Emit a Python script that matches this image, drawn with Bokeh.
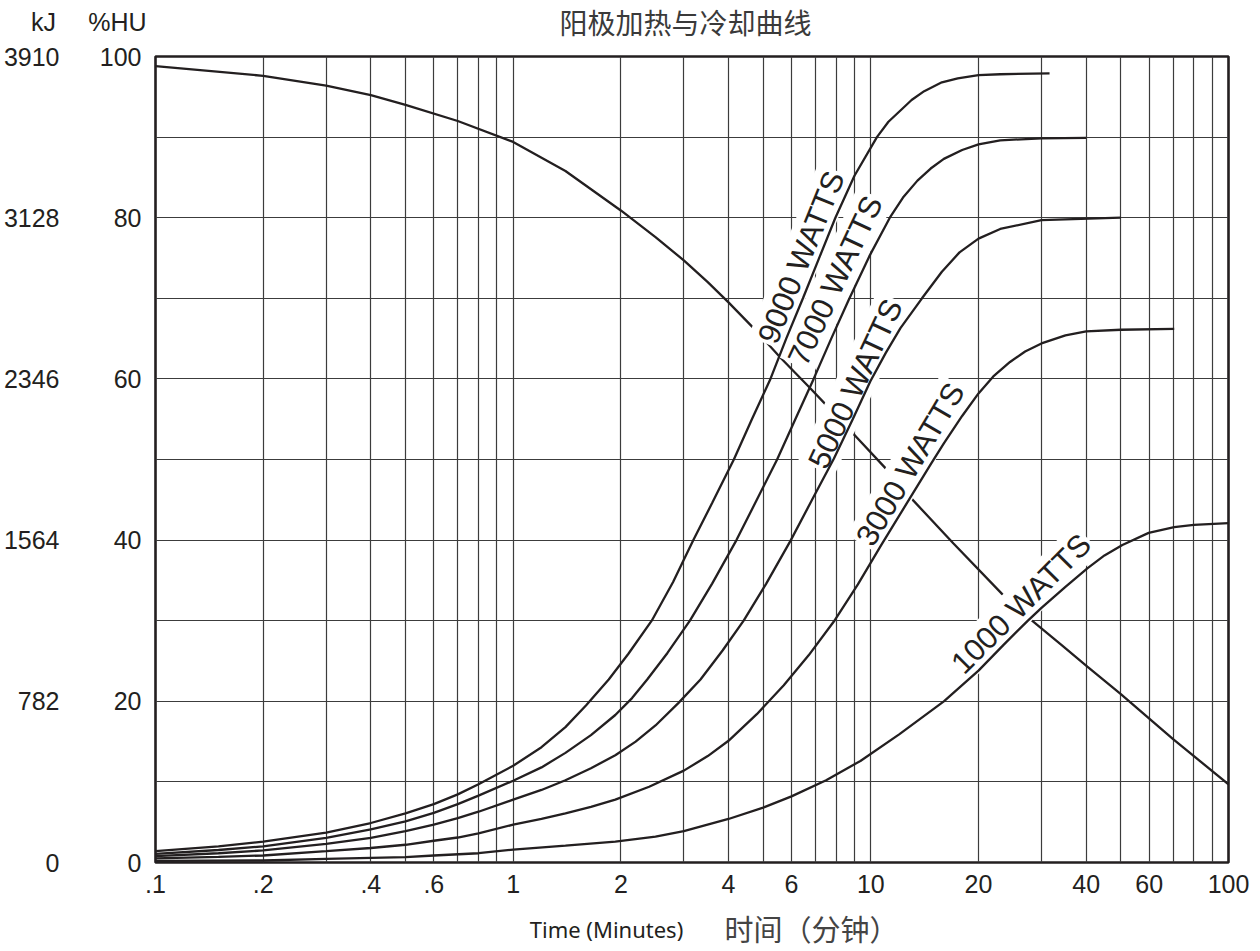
import math
from bokeh.plotting import figure
from bokeh.layouts import column
from bokeh.models import FixedTicker, LinearAxis, Range1d
from bokeh.core.properties import value
from bokeh.embed import file_html
from bokeh.resources import INLINE

# ---------------- data ----------------
cool_t = [0.1, 0.2, 0.3, 0.4, 0.5, 0.7, 1.0, 1.4, 2.0, 2.5, 3.0, 3.5, 4.0, 4.7, 5.6,
          6.75, 7.45, 8.8, 11.0, 12.9, 17.0, 23.3, 27.9, 34.3, 40.3, 50.0, 70.0, 100.0]
cool_v = [98.8, 97.6, 96.4, 95.2, 94.0, 92.0, 89.4, 85.8, 80.9, 77.6, 74.7, 72.0, 69.5, 66.3, 62.6,
          58.9, 56.9, 53.5, 48.9, 45.3, 39.6, 33.3, 30.2, 26.9, 24.3, 20.9, 15.3, 9.7]

w9000_t = [0.1, 0.15, 0.2, 0.3, 0.4, 0.5, 0.6, 0.7, 0.8, 1.0, 1.2, 1.4, 1.6, 1.85, 2.1,
           2.44, 2.8, 3.19, 3.6, 4.14, 4.65, 5.24, 5.8, 6.46, 7.2, 7.96, 9.0, 10.4, 11.2,
           12.1, 13.0, 14.1, 15.8, 17.5, 20.0, 23.0, 31.6]
w9000_v = [1.4, 2.0, 2.6, 3.7, 4.9, 6.1, 7.25, 8.45, 9.7, 12.0, 14.3, 16.8, 19.5, 22.7, 25.9,
           30.0, 34.8, 40.0, 44.6, 50.0, 55.0, 60.0, 65.0, 70.0, 75.2, 80.0, 85.2, 90.0, 91.9,
           93.3, 94.6, 95.7, 96.8, 97.3, 97.7, 97.8, 97.9]

w7000_t = [0.1, 0.15, 0.2, 0.3, 0.4, 0.5, 0.6, 0.7, 0.8, 1.0, 1.2, 1.4, 1.65, 1.93, 2.15,
           2.37, 2.7, 3.12, 3.6, 4.21, 4.8, 5.47, 6.15, 6.92, 7.75, 8.67, 9.9, 11.3, 12.3,
           13.5, 14.7, 16.0, 18.0, 20.0, 23.0, 30.0, 40.0]
w7000_v = [1.07, 1.55, 2.0, 3.05, 4.1, 5.1, 6.15, 7.25, 8.3, 10.15, 11.8, 13.6, 15.8, 18.3, 20.4,
           22.7, 26.0, 30.0, 34.6, 40.0, 45.0, 50.0, 55.0, 60.0, 65.0, 69.8, 75.2, 80.0, 82.5,
           84.6, 86.1, 87.3, 88.4, 89.1, 89.6, 89.85, 89.9]

w5000_t = [0.1, 0.15, 0.2, 0.3, 0.4, 0.5, 0.6, 0.7, 0.8, 1.0, 1.2, 1.4, 1.65, 1.93, 2.2,
           2.5, 2.9, 3.34, 3.85, 4.41, 5.1, 5.96, 6.85, 7.88, 8.9, 9.97, 11.0, 12.1, 13.9,
           15.8, 17.7, 20.0, 23.0, 30.0, 50.0]
w5000_v = [0.78, 1.15, 1.5, 2.3, 3.05, 3.9, 4.7, 5.5, 6.3, 7.8, 9.0, 10.2, 11.7, 13.3, 15.0,
           17.0, 19.8, 22.7, 26.3, 30.0, 34.6, 39.9, 45.0, 50.1, 55.0, 59.7, 63.2, 66.3, 70.0,
           73.3, 75.7, 77.4, 78.6, 79.7, 80.0]

w3000_t = [0.1, 0.15, 0.2, 0.3, 0.4, 0.5, 0.6, 0.7, 0.8, 1.0, 1.2, 1.4, 1.65, 1.93, 2.4,
           3.0, 3.5, 4.0, 4.8, 5.71, 6.7, 7.88, 9.2, 10.7, 12.9, 14.8, 16.0, 18.0, 20.0,
           22.0, 24.5, 27.0, 30.0, 35.0, 40.0, 50.0, 70.5]
w3000_v = [0.5, 0.7, 0.87, 1.4, 1.8, 2.2, 2.7, 3.1, 3.6, 4.7, 5.4, 6.1, 6.9, 7.8, 9.4,
           11.4, 13.2, 15.1, 18.4, 22.0, 25.7, 29.9, 34.5, 39.4, 45.3, 49.6, 52.0, 55.4, 58.2,
           60.3, 62.1, 63.4, 64.4, 65.4, 65.9, 66.1, 66.2]

w1000_t = [0.1, 0.2, 0.3, 0.4, 0.5, 0.6, 0.8, 1.0, 1.4, 1.93, 2.5, 3.0, 4.0, 5.0, 6.0,
           7.5, 9.35, 12.0, 16.0, 20.0, 23.5, 27.4, 30.0, 35.0, 40.3, 45.0, 50.5, 59.8, 70.5,
           80.0, 100.0]
w1000_v = [0.2, 0.25, 0.45, 0.58, 0.66, 0.87, 1.15, 1.6, 2.1, 2.6, 3.2, 3.9, 5.4, 6.8, 8.2,
           10.2, 12.6, 15.9, 20.0, 23.8, 27.0, 29.95, 31.6, 34.2, 36.5, 38.1, 39.4, 40.9, 41.6,
           41.9, 42.1]

curve_names = ["9000 WATTS", "7000 WATTS", "5000 WATTS", "3000 WATTS", "1000 WATTS"]
heat_t = [w9000_t, w7000_t, w5000_t, w3000_t, w1000_t]
heat_v = [w9000_v, w7000_v, w5000_v, w3000_v, w1000_v]

x_tick_values = [0.1, 0.2, 0.4, 0.6, 1, 2, 4, 6, 10, 20, 40, 60, 100]
x_tick_labels = [".1", ".2", ".4", ".6", "1", "2", "4", "6", "10", "20", "40", "60", "100"]
hu_ticks = [0, 20, 40, 60, 80, 100]
kj_max = 3910
kj_ticks = [0, 782, 1564, 2346, 3128, 3910]

title_text = "阳极加热与冷却曲线"
kj_header = "kJ"
hu_header = "%HU"
x_title_en = "Time (Minutes)"
x_title_zh = "时间（分钟）"

# placement of the in-chart curve names
label_t = [6.39, 7.96, 9.06, 12.9, 26.3]
label_v = [75.1, 72.2, 59.4, 49.4, 32.1]
label_angle_deg = [68, 65, 65, 59.5, 45]

# ---------------- styling constants ----------------
INK = "#231f20"
GRID = "#3c3c3c"
W = 1250
HEAD_H = 42
MAIN_H = 863
FOOT_H = 44


def blank_fig(height, y_top):
    f = figure(width=W, height=height, x_range=Range1d(0, W),
               y_range=Range1d(y_top + height, y_top),
               output_backend="svg", toolbar_location=None, title=None,
               x_axis_location=None, y_axis_location=None,
               min_border_left=0, min_border_right=0, min_border_top=0, min_border_bottom=0)
    f.frame_align = False
    f.outline_line_color = None
    f.xgrid.visible = False
    f.ygrid.visible = False
    f.background_fill_color = "white"
    f.border_fill_color = "white"
    return f


# ---------------- header (title + axis headers) ----------------
head = blank_fig(HEAD_H, 0)
head.text(x=[685], y=[21], text=[title_text], text_font=value("Noto Sans CJK SC"),
          text_font_size="28px", text_color="#3a3a3a", text_align="center",
          text_baseline="middle")
head.text(x=[43, 117], y=[21, 21], text=[kj_header, hu_header],
          text_font=value("Liberation Sans"), text_font_size="25px", text_color=INK,
          text_align="center", text_baseline="middle")

# ---------------- main chart ----------------
p = figure(width=W, height=MAIN_H, x_axis_type="log",
           x_range=Range1d(0.1, 100), y_range=Range1d(0, 100),
           output_backend="svg", toolbar_location=None, title=None,
           min_border_left=155, min_border_right=22,
           min_border_top=14, min_border_bottom=43)
p.frame_align = False
p.background_fill_color = "white"
p.border_fill_color = "white"
p.outline_line_color = INK
p.outline_line_width = 2.6

grid_x = [m * 10.0 ** e for e in (-1, 0, 1) for m in range(1, 10)] + [100.0]
p.xgrid.ticker = FixedTicker(ticks=grid_x)
p.ygrid.ticker = FixedTicker(ticks=list(range(0, 101, 10)))
for g in (p.xgrid[0], p.ygrid[0]):
    g.grid_line_color = GRID
    g.grid_line_width = 1.2


def style_axis(ax):
    ax.axis_line_color = None
    ax.major_tick_line_color = None
    ax.minor_tick_line_color = None
    ax.major_tick_out = 0
    ax.major_tick_in = 0
    ax.minor_tick_out = 0
    ax.minor_tick_in = 0
    ax.major_label_text_font = "Liberation Sans"
    ax.major_label_text_font_size = "25px"
    ax.major_label_text_color = INK


xax = p.xaxis[0]
style_axis(xax)
xax.ticker = FixedTicker(ticks=x_tick_values)
xax.major_label_overrides = {float(v): s for v, s in zip(x_tick_values, x_tick_labels)}
xax.major_label_standoff = 12

yax = p.yaxis[0]
style_axis(yax)
yax.ticker = FixedTicker(ticks=hu_ticks)
yax.major_label_standoff = 14

p.extra_y_ranges = {"kj": Range1d(0, kj_max)}
kax = LinearAxis(y_range_name="kj", ticker=FixedTicker(ticks=kj_ticks))
style_axis(kax)
kax.major_label_standoff = 37
p.add_layout(kax, "left")

# cooling curve (drawn before the labels so their boxes mask it)
p.line(cool_t, cool_v, line_color=INK, line_width=2.3)

# curve names on white boxes
p.text(x=label_t, y=label_v, text=curve_names,
       angle=[math.radians(a) for a in label_angle_deg],
       text_font=value("Liberation Sans"), text_font_size="31px",
       text_color=INK, text_align="center", text_baseline="middle",
       background_fill_color="white", padding=2)

# heating curves on top
for tt, vv in zip(heat_t, heat_v):
    p.line(tt, vv, line_color=INK, line_width=2.3)

# ---------------- footer (x-axis titles) ----------------
foot_top = HEAD_H + MAIN_H
foot = blank_fig(FOOT_H, foot_top)
foot.text(x=[606], y=[928], text=[x_title_en], text_font=value("Noto Sans"),
          text_font_size="22px", text_color=INK, text_align="center", text_baseline="middle")
foot.text(x=[811], y=[927], text=[x_title_zh], text_font=value("Noto Sans CJK SC"),
          text_font_size="29px", text_color="#444444", text_align="center",
          text_baseline="middle")

layout = column(head, p, foot, spacing=0)
open("out.html", "w").write(file_html(layout, INLINE))
